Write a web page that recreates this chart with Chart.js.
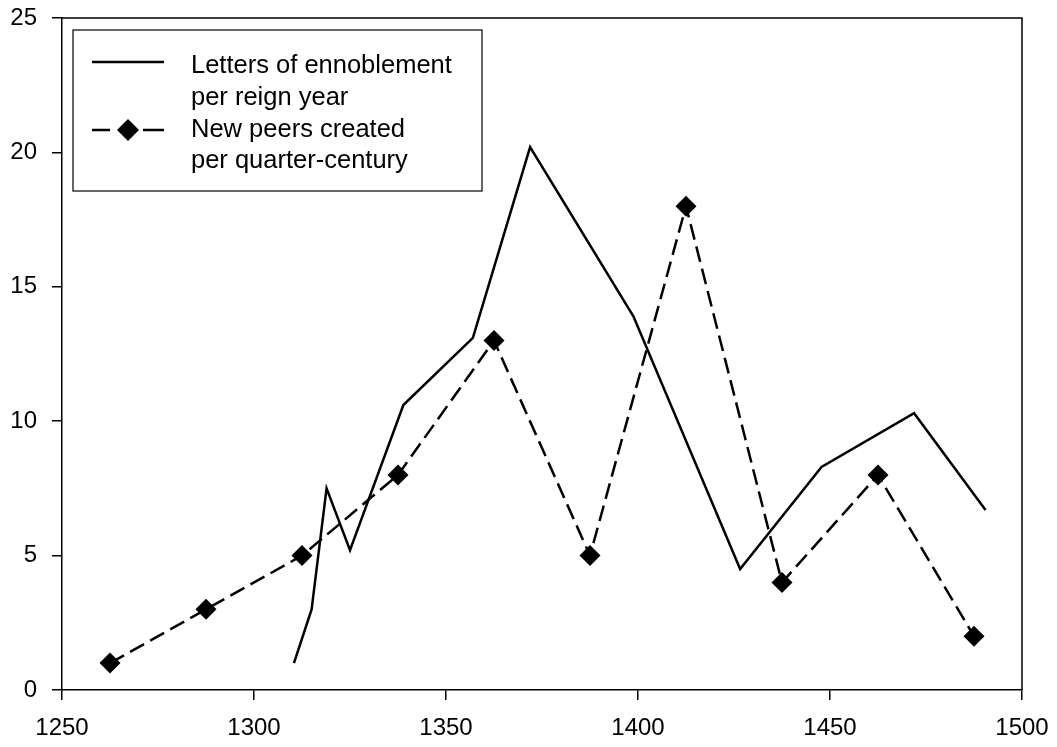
<!DOCTYPE html>
<html>
<head>
<meta charset="utf-8">
<script src="https://cdn.jsdelivr.net/npm/chart.js@4.4.0/dist/chart.umd.min.js"></script>
<style>
  html, body { margin: 0; padding: 0; background: #fff; }
  #wrap { width: 1057px; height: 747px; }
</style>
</head>
<body>
<div id="wrap"><canvas id="myChart" width="1057" height="747"></canvas></div>
<script>
// Letters of ennoblement per reign year
var letterYears = [1310.4, 1315.0, 1318.9, 1325.0, 1338.9, 1357.0, 1371.9, 1398.8, 1426.6, 1447.8, 1471.9, 1490.5];
var letterValues = [1.0, 3.0, 7.5, 5.2, 10.6, 13.1, 20.2, 13.9, 4.5, 8.3, 10.3, 6.7];

// New peers created per quarter-century
var peerYears = [1262.5, 1287.5, 1312.5, 1337.5, 1362.5, 1387.5, 1412.5, 1437.5, 1462.5, 1487.5];
var peerValues = [1, 3, 5, 8, 13, 5, 18, 4, 8, 2];

var xTicks = [1250, 1300, 1350, 1400, 1450, 1500];
var yTicks = [0, 5, 10, 15, 20, 25];

var legendLines = [
  ['Letters of ennoblement', 'per reign year'],
  ['New peers created', 'per quarter-century']
];

function toPoints(xs, ys) {
  return xs.map(function (x, i) { return { x: x, y: ys[i] }; });
}

var FONT = "'Liberation Sans', Arial, sans-serif";

// frame on top/right + boxed legend
var boxPlugin = {
  id: 'boxPlugin',
  afterDraw: function (chart) {
    var ctx = chart.ctx, a = chart.chartArea;
    ctx.save();
    ctx.strokeStyle = '#000';
    ctx.lineWidth = 1.5;
    ctx.beginPath();
    ctx.moveTo(a.left, a.top);
    ctx.lineTo(a.right, a.top);
    ctx.lineTo(a.right, a.bottom);
    ctx.stroke();

    // legend
    var lx = a.left + 11, ly = a.top + 12, lw = 409, lh = 161;
    ctx.fillStyle = '#fff';
    ctx.fillRect(lx, ly, lw, lh);
    ctx.lineWidth = 1.2;
    ctx.strokeRect(lx, ly, lw, lh);

    ctx.lineWidth = 2.5;
    ctx.beginPath();
    ctx.moveTo(lx + 19, ly + 32);
    ctx.lineTo(lx + 91, ly + 32);
    ctx.stroke();

    var dy = ly + 100;
    ctx.beginPath();
    ctx.moveTo(lx + 19, dy); ctx.lineTo(lx + 37, dy);
    ctx.moveTo(lx + 70, dy); ctx.lineTo(lx + 91, dy);
    ctx.stroke();
    var cx = lx + 55, r = 11;
    ctx.fillStyle = '#000';
    ctx.beginPath();
    ctx.moveTo(cx, dy - r); ctx.lineTo(cx + r, dy); ctx.lineTo(cx, dy + r); ctx.lineTo(cx - r, dy);
    ctx.closePath();
    ctx.fill();

    ctx.font = '25.5px ' + FONT;
    ctx.textBaseline = 'alphabetic';
    ctx.textAlign = 'left';
    var tx = lx + 118;
    ctx.fillText(legendLines[0][0], tx, ly + 43);
    ctx.fillText(legendLines[0][1], tx, ly + 75);
    ctx.fillText(legendLines[1][0], tx, ly + 107);
    ctx.fillText(legendLines[1][1], tx, ly + 138);
    ctx.restore();
  }
};

var ctx = document.getElementById('myChart').getContext('2d');
var chart = new Chart(ctx, {
  type: 'line',
  data: {
    datasets: [{
      label: 'Letters of ennoblement per reign year',
      data: toPoints(letterYears, letterValues),
      borderColor: '#000',
      borderWidth: 2.5,
      pointRadius: 0,
      tension: 0,
      fill: false
    }, {
      label: 'New peers created per quarter-century',
      data: toPoints(peerYears, peerValues),
      borderColor: '#000',
      backgroundColor: '#000',
      borderWidth: 2.5,
      borderDash: [16, 7],
      pointStyle: 'rectRot',
      pointRadius: 10.5,
      pointBackgroundColor: '#000',
      pointBorderWidth: 0,
      tension: 0,
      fill: false
    }]
  },
  options: {
    responsive: false,
    animation: false,
    layout: { padding: { top: 18, right: 35, left: 0, bottom: 0 } },
    plugins: {
      legend: { display: false },
      tooltip: { enabled: false }
    },
    scales: {
      x: {
        type: 'linear',
        min: 1250,
        max: 1500,
        afterFit: function (s) { s.height = 57; s.paddingLeft = 0; s.paddingRight = 0; },
        afterBuildTicks: function (s) { s.ticks = xTicks.map(function (v) { return { value: v }; }); },
        grid: { drawOnChartArea: false, drawTicks: true, tickLength: 10, color: '#000', lineWidth: 1.5 },
        border: { display: true, color: '#000', width: 1.5 },
        ticks: {
          color: '#000', font: { family: FONT, size: 24 }, padding: 14, maxRotation: 0,
          callback: function (v) { return String(v); }
        }
      },
      y: {
        min: 0,
        max: 25,
        afterFit: function (s) { s.width = 62; s.paddingTop = 0; s.paddingBottom = 0; },
        afterBuildTicks: function (s) { s.ticks = yTicks.map(function (v) { return { value: v }; }); },
        grid: { drawOnChartArea: false, drawTicks: true, tickLength: 10, color: '#000', lineWidth: 1.5 },
        border: { display: true, color: '#000', width: 1.5 },
        ticks: { color: '#000', font: { family: FONT, size: 24 }, padding: 15 }
      }
    }
  },
  plugins: [boxPlugin]
});
</script>
</body>
</html>
